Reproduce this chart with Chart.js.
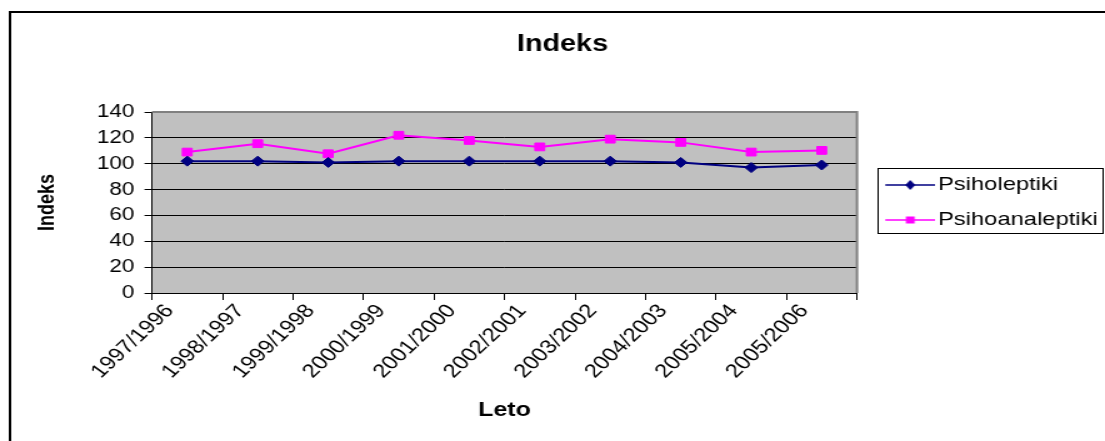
<!DOCTYPE html>
<html>
<head>
<meta charset="utf-8">
<script src="https://cdn.jsdelivr.net/npm/chart.js@4.4.0/dist/chart.umd.min.js"></script>
<style>
  html, body { margin: 0; padding: 0; background: #ffffff; overflow: hidden; }
  #wrap { position: absolute; left: 0; top: 0; width: 884px; height: 441px; transform: scaleX(1.25); transform-origin: 0 0; }
</style>
</head>
<body>
<div id="wrap"><canvas id="c"></canvas></div>
<script>
const categories = ["1997/1996","1998/1997","1999/1998","2000/1999","2001/2000","2002/2001","2003/2002","2004/2003","2005/2004","2005/2006"];
const psiholeptiki = [102, 102, 101, 102, 102, 102, 102, 101, 97, 99];
const psihoanaleptiki = [109, 115.5, 107.7, 122, 118, 113, 119, 116.5, 109, 110.3];
const yTicks = [0, 20, 40, 60, 80, 100, 120, 140];
const seriesNames = ["Psiholeptiki", "Psihoanaleptiki"];
const chartTitle = "Indeks";
const xTitle = "Leto";
const yTitle = "Indeks";

const FONT = "'Liberation Sans', Arial, sans-serif";

function legendIcon(color, style) {
  const c = document.createElement('canvas');
  c.width = 54; c.height = 12;
  const g = c.getContext('2d');
  g.strokeStyle = color; g.lineWidth = 1.5;
  g.beginPath(); g.moveTo(14, 6); g.lineTo(54, 6); g.stroke();
  g.fillStyle = color;
  g.beginPath();
  if (style === 'diamond') {
    g.moveTo(34, 1); g.lineTo(38, 6); g.lineTo(34, 11); g.lineTo(30, 6); g.closePath();
  } else {
    g.rect(30.5, 2.5, 7, 7);
  }
  g.fill();
  return c;
}
const icons = [legendIcon('#000080', 'diamond'), legendIcon('#FF00FF', 'square')];

const decor = {
  id: 'decor',
  beforeDraw(chart) {
    const { ctx, chartArea: a } = chart;
    ctx.save();
    ctx.fillStyle = '#C0C0C0';
    ctx.fillRect(a.left, a.top, a.right - a.left, a.bottom - a.top);
    ctx.strokeStyle = '#000000';
    ctx.lineWidth = 2;
    ctx.strokeRect(8, 12, 2000, 2000);
    ctx.restore();
  },
  beforeDatasetsDraw(chart) {
    const { ctx, chartArea: a } = chart;
    ctx.save();
    ctx.strokeStyle = '#808080';
    ctx.lineWidth = 2;
    ctx.beginPath();
    ctx.moveTo(a.left, a.top); ctx.lineTo(a.right, a.top); ctx.lineTo(a.right, a.bottom);
    ctx.stroke();
    ctx.restore();
  },
  afterDraw(chart) {
    const lg = chart.legend;
    if (!lg || !lg.legendHitBoxes || !lg.legendHitBoxes.length) return;
    const hb = lg.legendHitBoxes;
    let l = Infinity, r = -Infinity, t = Infinity, b = -Infinity;
    hb.forEach(h => { l = Math.min(l, h.left); r = Math.max(r, h.left + h.width); t = Math.min(t, h.top); b = Math.max(b, h.top + h.height); });
    const ctx = chart.ctx;
    ctx.save();
    ctx.strokeStyle = '#000000';
    ctx.lineWidth = 1;
    ctx.strokeRect(Math.round(l) + 0.5, Math.round(t - 8) + 0.5, Math.round(r - l + 3), Math.round(b - t + 11));
    ctx.restore();
  }
};

new Chart(document.getElementById('c'), {
  type: 'line',
  data: {
    labels: categories,
    datasets: [
      {
        label: seriesNames[0],
        data: psiholeptiki,
        borderColor: '#000080',
        backgroundColor: '#000080',
        borderWidth: 2,
        pointStyle: 'rectRot',
        pointRadius: 5,
        pointBorderWidth: 1,
        pointBackgroundColor: '#000080',
        pointBorderColor: '#000080',
        tension: 0
      },
      {
        label: seriesNames[1],
        data: psihoanaleptiki,
        borderColor: '#FF00FF',
        backgroundColor: '#FF00FF',
        borderWidth: 2,
        pointStyle: 'rect',
        pointRadius: 5.5,
        pointBorderWidth: 1,
        pointBackgroundColor: '#FF00FF',
        pointBorderColor: '#FF00FF',
        tension: 0
      }
    ]
  },
  options: {
    responsive: true,
    maintainAspectRatio: false,
    animation: false,
    events: [],
    layout: { padding: { left: 16, right: 0, top: 0, bottom: 0 } },
    plugins: {
      title: {
        display: true,
        text: chartTitle,
        color: '#000000',
        font: { family: FONT, size: 23, weight: 'bold' },
        padding: { top: 31, bottom: 53.4 }
      },
      legend: {
        display: true,
        position: 'right',
        fullSize: false,
        maxWidth: 198.4,
        labels: {
          color: '#000000',
          font: { family: FONT, size: 19 },
          usePointStyle: true,
          pointStyleWidth: 39.3,
          padding: 16,
          generateLabels(chart) {
            return chart.data.datasets.map((ds, i) => ({
              text: ds.label,
              pointStyle: icons[i],
              fillStyle: ds.borderColor,
              strokeStyle: ds.borderColor,
              lineWidth: 0,
              hidden: false,
              datasetIndex: i,
              fontColor: '#000000'
            }));
          }
        }
      },
      tooltip: { enabled: false }
    },
    scales: {
      x: {
        type: 'category',
        offset: true,
        afterFit(scale) { scale.height = 148; },
        grid: { display: true, offset: true, drawOnChartArea: false, drawTicks: true, tickLength: 7, color: '#000000', lineWidth: 1 },
        border: { display: true, color: '#000000', width: 1 },
        ticks: {
          color: '#000000',
          font: { family: FONT, size: 19 },
          minRotation: 49,
          maxRotation: 49,
          autoSkip: false,
          labelOffset: -14,
          padding: 0
        },
        title: {
          display: true,
          text: xTitle,
          color: '#000000',
          font: { family: FONT, size: 20, weight: 'bold' },
          padding: { top: 0, bottom: 19 }
        }
      },
      y: {
        min: 0,
        max: 140,
        afterFit(scale) { scale.width = 105.6; },
        afterBuildTicks(scale) { scale.ticks = yTicks.map(v => ({ value: v })); },
        grid: {
          display: true,
          drawTicks: true,
          tickLength: 6,
          color: '#000000',
          lineWidth: 1
        },
        border: { display: true, color: '#000000', width: 1 },
        ticks: {
          color: '#000000',
          font: { family: FONT, size: 18 },
          padding: 8
        },
        title: {
          display: true,
          text: yTitle,
          color: '#000000',
          font: { family: FONT, size: 18, weight: 'bold' },
          padding: { top: 11.6, bottom: 0 }
        }
      }
    }
  },
  plugins: [decor]
});
</script>
</body>
</html>
